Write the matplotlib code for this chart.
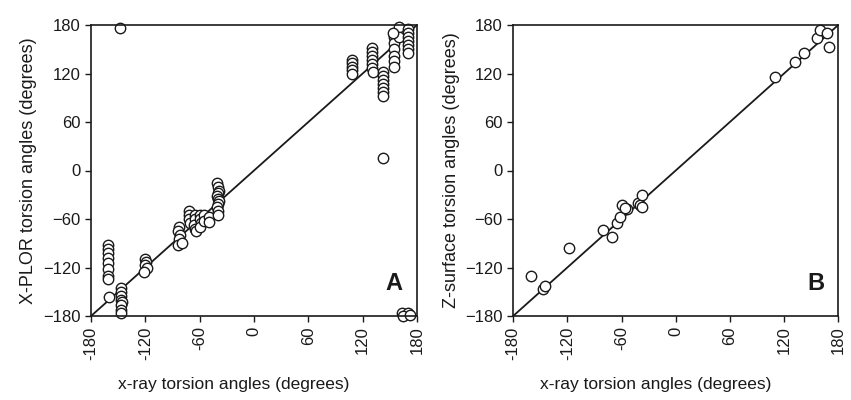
import numpy as np
import matplotlib.pyplot as plt

plt.rcParams['font.family'] = ['Liberation Sans', 'DejaVu Sans']

# panel A: x-ray vs X-PLOR torsion angles
xa = [-148,
      -161, -161, -161, -161, -161, -161, -161, -161, -160,
      -147, -147, -147, -147, -146, -147, -147, -147,
      -120, -119, -120, -118, -121,
      -83, -84, -82, -83, -84, -80,
      -72, -72, -72, -71, -65, -65, -66, -65, -64, -60, -60, -59, -60, -55, -55, -50, -50,
      -41, -40, -39, -40, -41, -40, -39, -40, -41, -40, -40,
      108, 108, 108, 108, 108,
      130, 130, 130, 130, 130, 130, 131,
      142, 142, 142, 142, 142, 142, 142, 142,
      155, 155, 155, 155, 155, 155,
      160, 160, 154,
      170, 170, 170, 170, 170, 170, 170,
      163, 170, 164, 172]
ya = [176,
      -92, -97, -102, -108, -115, -122, -130, -134, -156,
      -145, -150, -155, -160, -163, -167, -172, -176,
      -110, -113, -117, -120, -125,
      -70, -75, -80, -85, -92, -90,
      -50, -55, -60, -65, -55, -60, -68, -72, -75, -55, -60, -65, -70, -55, -62, -58, -64,
      -15, -20, -25, -28, -32, -35, -38, -42, -45, -50, -55,
      137, 133, 128, 124, 120,
      152, 147, 142, 137, 132, 127, 122,
      122, 117, 112, 107, 102, 97, 92, 15,
      165, 158, 150, 142, 135, 128,
      177, 165, 170,
      175, 170, 165, 160, 155, 150, 145,
      -176, -176, -180, -179]

# panel B: x-ray vs Z-surface torsion angles
xb = [-160, -147, -145, -118, -80, -70, -65, -62, -59, -54, -56,
      -42, -39, -37, -37, 110, 132, 142, 157, 160, 168, 170]
yb = [-130, -146, -143, -96, -74, -82, -65, -57, -43, -48, -47,
      -40, -43, -45, -30, 116, 134, 145, 164, 174, 170, 153]

ticks = [-180, -120, -60, 0, 60, 120, 180]
ink = '#1a1a1a'

fig = plt.figure(figsize=(8.51, 4), dpi=100)
panels = [
    ([0.107, 0.21, 0.383, 0.7275], xa, ya, 'X-PLOR torsion angles (degrees)', 'A'),
    ([0.603, 0.21, 0.382, 0.7275], xb, yb, 'Z-surface torsion angles (degrees)', 'B'),
]
for rect, xs, ys, ylab, tag in panels:
    ax = fig.add_axes(rect)
    ax.plot([-180, 180], [-180, 180], color=ink, lw=1.3, zorder=1)
    ax.plot(xs, ys, 'o', ms=7.5, mfc='white', mec=ink, mew=1.0, zorder=2,
            clip_on=False)
    ax.set_xlim(-180, 180)
    ax.set_ylim(-180, 180)
    ax.set_xticks(ticks)
    ax.set_yticks(ticks)
    ax.set_xticklabels([str(t) for t in ticks], rotation=90)
    ax.tick_params(direction='out', length=4.5, width=1, colors=ink,
                   labelsize=12, pad=3)
    for s in ax.spines.values():
        s.set_color(ink)
        s.set_linewidth(1.2)
    ax.set_xlabel('x-ray torsion angles (degrees)', fontsize=12.5, color=ink)
    ax.xaxis.set_label_coords(0.437, -0.21)
    ax.set_ylabel(ylab, fontsize=13, color=ink, labelpad=4)
    ax.text(0.93, 0.11, tag, transform=ax.transAxes, fontsize=17,
            fontweight='bold', ha='center', va='center', color=ink)

fig.savefig('out.png', dpi=100, facecolor='white')
